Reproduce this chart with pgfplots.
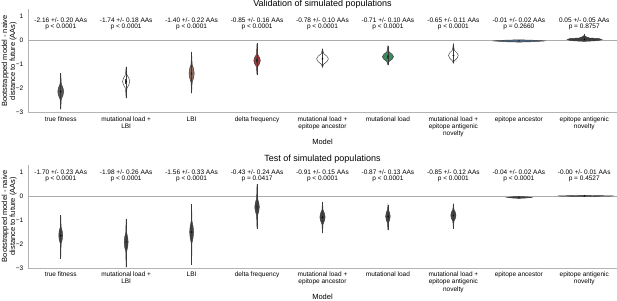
\documentclass[border=0pt]{standalone}
\usepackage{fontspec}
\setmainfont{Liberation Sans}
\usepackage{pgfplots}
\pgfplotsset{compat=1.18}
\definecolor{spine}{HTML}{B4B4B4}
\definecolor{zline}{HTML}{ABABAB}
\definecolor{vline}{HTML}{3A3A3A}
\definecolor{cTF}{HTML}{555555}
\definecolor{cLBI}{HTML}{8C6F60}
\definecolor{cDF}{HTML}{A33A3A}
\definecolor{cML}{HTML}{3E8A5E}
\definecolor{cEA}{HTML}{4D6785}
\definecolor{cEAN}{HTML}{3D3D3D}
\definecolor{cBot}{HTML}{454545}
\tikzset{ann/.style={font=\fontsize{6.5}{6.7}\selectfont, align=center}}
\pgfplotsset{
 vplot/.style={
  scale only axis, width=589pt, height=103.5pt,
  xmin=-0.5, xmax=8.5, ymin=-3, ymax=1.31,
  axis lines*=left,
  axis line style={draw=spine, line width=0.8pt},
  unbounded coords=jump,
  xtick={0,1,2,3,4,5,6,7,8},
  xticklabels={true fitness, {mutational load +\\LBI}, LBI, delta frequency, {mutational load +\\epitope ancestor}, mutational load, {mutational load +\\epitope antigenic\\novelty}, epitope ancestor, {epitope antigenic\\novelty}},
  ytick={-3,-2,-1,0,1},
  yticklabels={−3,−2,−1,0,1},
  major tick length=0pt,
  tick label style={font=\fontsize{6.5}{7.2}\selectfont},
  xticklabel style={align=center, anchor=north, inner sep=0pt, yshift=-3.8pt},
  yticklabel style={anchor=east, inner sep=0pt, xshift=-4.5pt},
  xlabel={Model},
  every axis x label/.style={at={(axis description cs:0.5,0)}, anchor=base, yshift=-31.8pt, font=\fontsize{7.5}{9}\selectfont},
  ylabel={Bootstrapped model - naive\\distance to future (AAs)},
  every axis y label/.style={at={(axis description cs:-0.0187,0.5)}, rotate=90, anchor=south, inner sep=0pt, align=center, font=\fontsize{7.5}{8.2}\selectfont},
  every axis title/.style={at={(axis description cs:0.5,1)}, anchor=south, inner sep=0pt, yshift=0.8pt, font=\fontsize{9}{10}\selectfont},
  clip=false,
 },
 vio/.style={draw=vline, line width=0.45pt},
 whisk/.style={draw=vline, line width=0.55pt},
 iqr/.style={draw=vline, line width=1.5pt},
 iqrb/.style={draw=vline, line width=1.2pt},
 med/.style={only marks, mark=*, mark size=0.65pt, mark options={fill=white, draw=none}},
}
\begin{document}
\begin{tikzpicture}
\path[use as bounding box] (-28pt,-187.3pt) rectangle (589pt,112.7pt);
% ---------------- top panel ----------------
\begin{axis}[vplot, at={(0,0)}, anchor=south west, title={Validation of simulated populations}]
\addplot[draw=zline, line width=0.8pt] coordinates {(-0.5,0) (8.5,0)};
% violins
\addplot[vio, fill=cTF] coordinates {(0,-1.36) (0.009,-1.80) (0.034,-1.96) (0.045,-2.12) (0.034,-2.28) (0.009,-2.44) (0,-2.86) (-0.009,-2.44) (-0.034,-2.28) (-0.045,-2.12) (-0.034,-1.96) (-0.009,-1.80)} -- cycle;
\addplot[vio, fill=white] coordinates {(1,-1.08) (1.011,-1.42) (1.041,-1.56) (1.055,-1.70) (1.041,-1.84) (1.011,-1.98) (1,-2.40) (0.989,-1.98) (0.959,-1.84) (0.945,-1.70) (0.959,-1.56) (0.989,-1.42)} -- cycle;
\addplot[vio, fill=cLBI] coordinates {(2,-0.47) (2.008,-0.98) (2.03,-1.17) (2.04,-1.36) (2.03,-1.55) (2.008,-1.74) (2,-2.19) (1.992,-1.74) (1.97,-1.55) (1.96,-1.36) (1.97,-1.17) (1.992,-0.98)} -- cycle;
\addplot[vio, fill=cDF] coordinates {(3,-0.11) (3.01,-0.58) (3.038,-0.705) (3.05,-0.83) (3.038,-0.955) (3.01,-1.08) (3,-1.43) (2.99,-1.08) (2.962,-0.955) (2.95,-0.83) (2.962,-0.705) (2.99,-0.58)} -- cycle;
\addplot[vio, fill=white] coordinates {(4,-0.35) (4.018,-0.54) (4.068,-0.65) (4.09,-0.76) (4.068,-0.87) (4.018,-0.98) (4,-1.11) (3.982,-0.98) (3.932,-0.87) (3.91,-0.76) (3.932,-0.65) (3.982,-0.54)} -- cycle;
\addplot[vio, fill=cML] coordinates {(5,-0.22) (5.017,-0.47) (5.064,-0.57) (5.085,-0.67) (5.064,-0.77) (5.017,-0.87) (5,-1.01) (4.983,-0.87) (4.936,-0.77) (4.915,-0.67) (4.936,-0.57) (4.983,-0.47)} -- cycle;
\addplot[vio, fill=white] coordinates {(6,-0.14) (6.015,-0.40) (6.056,-0.51) (6.075,-0.62) (6.056,-0.73) (6.015,-0.84) (6,-0.94) (5.985,-0.84) (5.944,-0.73) (5.925,-0.62) (5.944,-0.51) (5.985,-0.40)} -- cycle;
\addplot[vio, fill=cEA] coordinates {(6.6,-0.01) (6.8,0.02) (7,0.035) (7.2,0.02) (7.41,-0.01) (7.2,-0.045) (7,-0.06) (6.8,-0.045)} -- cycle;
\addplot[vio, fill=cEAN] coordinates {(7.74,0.04) (7.78,0.09) (7.92,0.11) (7.97,0.16) (8,0.22) (8.03,0.16) (8.08,0.11) (8.22,0.09) (8.27,0.04) (8.2,0.0) (8,-0.03) (7.8,0.0)} -- cycle;
% inner boxes
\addplot[whisk] coordinates {(0,-1.36) (0,-2.86) (0,nan) (1,-1.08) (1,-2.40) (1,nan) (2,-0.47) (2,-2.19) (2,nan) (3,-0.11) (3,-1.43) (3,nan) (4,-0.35) (4,-1.11) (4,nan) (5,-0.22) (5,-1.01) (5,nan) (6,-0.14) (6,-0.94) (6,nan) (8,0.27) (8,-0.02)};
\addplot[iqr] coordinates {(0,-1.99) (0,-2.25) (0,nan) (1,-1.59) (1,-1.81) (1,nan) (2,-1.21) (2,-1.51) (2,nan) (3,-0.73) (3,-0.93) (3,nan) (4,-0.67) (4,-0.85) (4,nan) (5,-0.59) (5,-0.75) (5,nan) (6,-0.53) (6,-0.71)};
\addplot[med] coordinates {(0,-2.12) (1,-1.70) (2,-1.36) (3,-0.83) (4,-0.76) (5,-0.67) (6,-0.62) (7,-0.01) (8,0.05)};
% annotations
\node[ann] at (0,0.70) {-2.16 +/- 0.20 AAs\\p < 0.0001};
\node[ann] at (1,0.70) {-1.74 +/- 0.18 AAs\\p < 0.0001};
\node[ann] at (2,0.70) {-1.40 +/- 0.22 AAs\\p < 0.0001};
\node[ann] at (3,0.70) {-0.85 +/- 0.16 AAs\\p < 0.0001};
\node[ann] at (4,0.70) {-0.78 +/- 0.10 AAs\\p < 0.0001};
\node[ann] at (5,0.70) {-0.71 +/- 0.10 AAs\\p < 0.0001};
\node[ann] at (6,0.70) {-0.65 +/- 0.11 AAs\\p < 0.0001};
\node[ann] at (7,0.70) {-0.01 +/- 0.02 AAs\\p = 0.2660};
\node[ann] at (8,0.70) {0.05 +/- 0.05 AAs\\p = 0.8757};
\end{axis}
% ---------------- bottom panel ----------------
\begin{axis}[vplot, at={(0,-155.3pt)}, anchor=south west, title={Test of simulated populations}]
\addplot[draw=zline, line width=0.8pt] coordinates {(-0.5,0) (8.5,0)};
\addplot[vio, fill=cBot] coordinates {(0,-0.81) (0.006,-1.29) (0.023,-1.465) (0.03,-1.64) (0.023,-1.815) (0.006,-1.99) (0,-2.62) (-0.006,-1.99) (-0.023,-1.815) (-0.03,-1.64) (-0.023,-1.465) (-0.006,-1.29)} -- cycle;
\addplot[vio, fill=cBot] coordinates {(1,-0.95) (1.006,-1.52) (1.023,-1.72) (1.03,-1.92) (1.023,-2.12) (1.006,-2.32) (1,-2.97) (0.994,-2.32) (0.977,-2.12) (0.97,-1.92) (0.977,-1.72) (0.994,-1.52)} -- cycle;
\addplot[vio, fill=cBot] coordinates {(2,-0.35) (2.006,-1.05) (2.023,-1.275) (2.03,-1.5) (2.023,-1.725) (2.006,-1.95) (2,-2.86) (1.994,-1.95) (1.977,-1.725) (1.97,-1.5) (1.977,-1.275) (1.994,-1.05)} -- cycle;
\addplot[vio, fill=cBot] coordinates {(3,0.49) (3.007,-0.11) (3.026,-0.285) (3.035,-0.46) (3.026,-0.635) (3.007,-0.81) (3,-1.36) (2.993,-0.81) (2.974,-0.635) (2.965,-0.46) (2.974,-0.285) (2.993,-0.11)} -- cycle;
\addplot[vio, fill=cBot] coordinates {(4,-0.25) (4.008,-0.58) (4.03,-0.73) (4.04,-0.88) (4.03,-1.03) (4.008,-1.18) (4,-1.55) (3.992,-1.18) (3.97,-1.03) (3.96,-0.88) (3.97,-0.73) (3.992,-0.58)} -- cycle;
\addplot[vio, fill=cBot] coordinates {(5,-0.39) (5.007,-0.57) (5.026,-0.71) (5.035,-0.85) (5.026,-0.99) (5.007,-1.13) (5,-1.41) (4.993,-1.13) (4.974,-0.99) (4.965,-0.85) (4.974,-0.71) (4.993,-0.57)} -- cycle;
\addplot[vio, fill=cBot] coordinates {(6,-0.32) (6.008,-0.56) (6.03,-0.685) (6.04,-0.81) (6.03,-0.935) (6.008,-1.06) (6,-1.36) (5.992,-1.06) (5.97,-0.935) (5.96,-0.81) (5.97,-0.685) (5.992,-0.56)} -- cycle;
\addplot[vio, fill=cBot] coordinates {(6.82,-0.06) (6.92,-0.03) (7,-0.02) (7.08,-0.03) (7.21,-0.06) (7.08,-0.09) (7,-0.1) (6.92,-0.09)} -- cycle;
\addplot[vio, fill=cBot] coordinates {(7.6,0) (7.8,0.015) (8,0.025) (8.2,0.015) (8.45,0) (8.2,-0.015) (8,-0.025) (7.8,-0.015)} -- cycle;
\addplot[whisk] coordinates {(0,-0.81) (0,-2.62) (0,nan) (1,-0.95) (1,-2.97) (1,nan) (2,-0.35) (2,-2.86) (2,nan) (3,0.49) (3,-1.36) (3,nan) (4,-0.25) (4,-1.55) (4,nan) (5,-0.39) (5,-1.41) (5,nan) (6,-0.32) (6,-1.36)};
\addplot[iqrb] coordinates {(0,-1.5) (0,-1.78) (0,nan) (1,-1.76) (1,-2.08) (1,nan) (2,-1.32) (2,-1.68) (2,nan) (3,-0.32) (3,-0.6) (3,nan) (4,-0.76) (4,-1.0) (4,nan) (5,-0.74) (5,-0.96) (5,nan) (6,-0.71) (6,-0.91)};
\addplot[med] coordinates {(0,-1.64) (1,-1.92) (2,-1.5) (3,-0.46) (4,-0.88) (5,-0.85) (6,-0.81) (7,-0.06) (8,0)};
\node[ann] at (0,0.84) {-1.70 +/- 0.23 AAs\\p < 0.0001};
\node[ann] at (1,0.84) {-1.98 +/- 0.26 AAs\\p < 0.0001};
\node[ann] at (2,0.84) {-1.56 +/- 0.33 AAs\\p < 0.0001};
\node[ann] at (3,0.84) {-0.43 +/- 0.24 AAs\\p = 0.0417};
\node[ann] at (4,0.84) {-0.91 +/- 0.15 AAs\\p < 0.0001};
\node[ann] at (5,0.84) {-0.87 +/- 0.13 AAs\\p < 0.0001};
\node[ann] at (6,0.84) {-0.85 +/- 0.12 AAs\\p < 0.0001};
\node[ann] at (7,0.84) {-0.04 +/- 0.02 AAs\\p < 0.0001};
\node[ann] at (8,0.84) {-0.00 +/- 0.01 AAs\\p = 0.4527};
\end{axis}
\end{tikzpicture}
\end{document}
